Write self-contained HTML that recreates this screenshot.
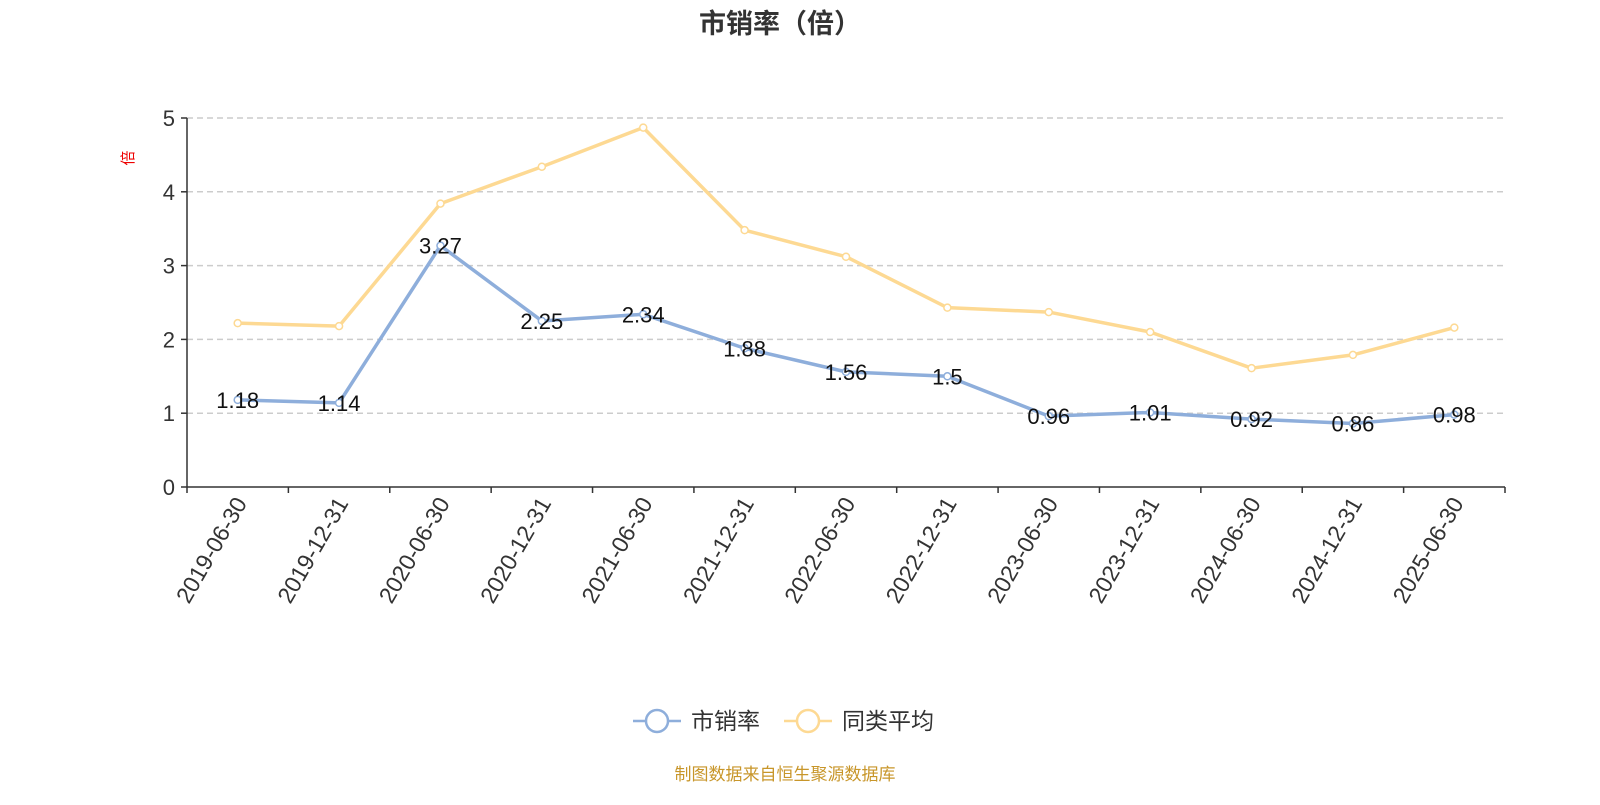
<!DOCTYPE html>
<html><head><meta charset="utf-8"><style>
body{margin:0;background:#fff;width:1600px;height:800px;overflow:hidden;font-family:"Liberation Sans","Noto Sans CJK SC",sans-serif}
</style></head><body>
<svg id="c" width="1600" height="800" xmlns="http://www.w3.org/2000/svg" font-family="Liberation Sans, Noto Sans CJK SC, sans-serif"></svg>
<script>
const categories=["2019-06-30","2019-12-31","2020-06-30","2020-12-31","2021-06-30","2021-12-31","2022-06-30","2022-12-31","2023-06-30","2023-12-31","2024-06-30","2024-12-31","2025-06-30"];
const psValues=[1.18,1.14,3.27,2.25,2.34,1.88,1.56,1.5,0.96,1.01,0.92,0.86,0.98];
const avgValues=[2.22,2.18,3.84,4.34,4.87,3.48,3.12,2.43,2.37,2.10,1.61,1.79,2.16];
const psLabels=["1.18","1.14","3.27","2.25","2.34","1.88","1.56","1.5","0.96","1.01","0.92","0.86","0.98"];
const yTicks=[0,1,2,3,4,5];

const svg=document.getElementById('c');
const NS='http://www.w3.org/2000/svg';
const L=187,R=1505,T=118,B=487,yMax=5;
const band=(R-L)/categories.length;
const x=i=>L+band*(i+0.5);
const y=v=>B-(v/yMax)*(B-T);
function el(tag,attrs,parent){const e=document.createElementNS(NS,tag);for(const k in attrs)e.setAttribute(k,attrs[k]);(parent||svg).appendChild(e);return e;}

let t=el('text',{x:780,y:33,'text-anchor':'middle','font-size':27,'font-weight':'bold',fill:'#333'});t.textContent='市销率（倍）';

t=el('text',{x:0,y:0,'font-size':15,fill:'#e00','text-anchor':'middle',transform:'translate(133,158) rotate(-90)'});t.textContent='倍';


yTicks.forEach(v=>{
  if(v>0){const g=el('line',{x1:L,x2:R,y1:y(v),y2:y(v),stroke:'#ccc','stroke-dasharray':'6,4','stroke-width':1.5});
  }
  el('line',{x1:L-6,x2:L,y1:y(v),y2:y(v),stroke:'#333','stroke-width':1.5});
  const tx=el('text',{x:L-12,y:y(v)+8,'text-anchor':'end','font-size':22,fill:'#333'});tx.textContent=v;
  
});
let ax=el('line',{x1:L,x2:L,y1:T,y2:B,stroke:'#333','stroke-width':1.5});

ax=el('line',{x1:L,x2:R,y1:B,y2:B,stroke:'#333','stroke-width':1.5});

for(let i=0;i<=categories.length;i++)el('line',{x1:L+band*i,x2:L+band*i,y1:B,y2:B+6,stroke:'#333','stroke-width':1.5});
categories.forEach((c,i)=>{
  const tx=el('text',{x:0,y:0,'text-anchor':'end','font-size':23,fill:'#333',transform:`translate(${x(i)+10},${B+16}) rotate(-60)`});
  tx.textContent=c;
  
});

function series(vals,color,name){
  const p=el('polyline',{points:vals.map((v,i)=>x(i)+','+y(v)).join(' '),fill:'none',stroke:color,'stroke-width':3.5,'stroke-linejoin':'round'});
  
  vals.forEach((v,i)=>{const c=el('circle',{cx:x(i),cy:y(v),r:3.5,fill:'#fff',stroke:color,'stroke-width':1.5});
    });
}
series(avgValues,'#fdd993','avg');
series(psValues,'#8eaedb','ps');
psValues.forEach((v,i)=>{
  const tx=el('text',{x:x(i),y:y(v)+8,'text-anchor':'middle','font-size':22,fill:'#111'});tx.textContent=psLabels[i];
  
});

function legend(cx,color,label,name){
  const g=el('g',{});
  el('line',{x1:cx-24,x2:cx+24,y1:721,y2:721,stroke:color,'stroke-width':2.5},g);
  el('circle',{cx:cx,cy:721,r:11,fill:'#fff',stroke:color,'stroke-width':2.5},g);
  const tx=el('text',{x:cx+34,y:729,'font-size':23,fill:'#333'},g);tx.textContent=label;
}
legend(657,'#8eaedb','市销率','legend-ps');
legend(808,'#fdd993','同类平均','legend-avg');
t=el('text',{x:785,y:780,'text-anchor':'middle','font-size':17,fill:'#c8962a'});t.textContent='制图数据来自恒生聚源数据库';

</script>
</body></html>
